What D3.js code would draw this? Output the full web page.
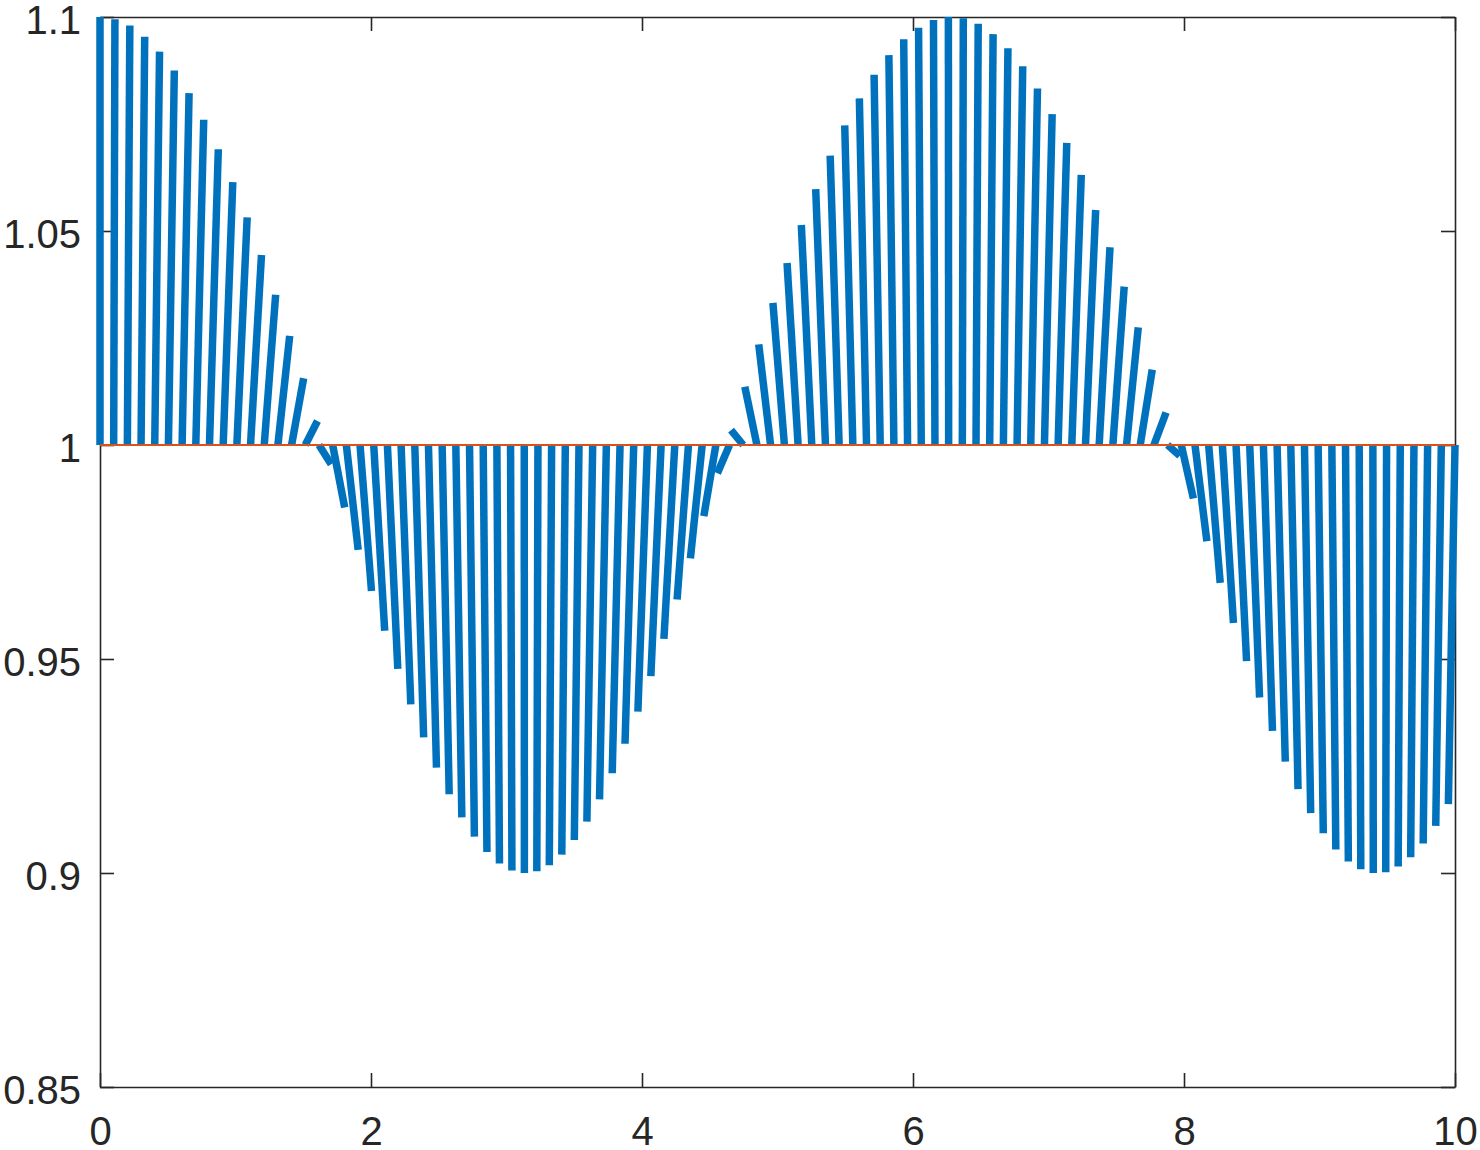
<!DOCTYPE html>
<html>
<head>
<meta charset="utf-8">
<script src="https://cdn.jsdelivr.net/npm/d3@7"></script>
<style>
  body { margin: 0; background: #fff; }
  .axis text { font-family: "Liberation Sans", Arial, sans-serif; font-size: 40px; fill: #262626; }
  .axis path, .axis line { stroke: #262626; stroke-width: 1.6; }
</style>
</head>
<body>
<div id="chart"></div>
<script>
// sample positions along x
const xs = [0, 0.101, 0.202, 0.303, 0.404, 0.505, 0.606, 0.707, 0.808, 0.909,
  1.010, 1.111, 1.212, 1.313, 1.414, 1.515, 1.616, 1.717, 1.818, 1.919,
  2.020, 2.121, 2.222, 2.323, 2.424, 2.525, 2.626, 2.727, 2.828, 2.929,
  3.030, 3.131, 3.232, 3.333, 3.434, 3.535, 3.636, 3.737, 3.838, 3.939,
  4.040, 4.141, 4.242, 4.343, 4.444, 4.545, 4.646, 4.747, 4.848, 4.949,
  5.051, 5.152, 5.253, 5.354, 5.455, 5.556, 5.657, 5.758, 5.859, 5.960,
  6.061, 6.162, 6.263, 6.364, 6.465, 6.566, 6.667, 6.768, 6.869, 6.970,
  7.071, 7.172, 7.273, 7.374, 7.475, 7.576, 7.677, 7.778, 7.879, 7.980,
  8.081, 8.182, 8.283, 8.384, 8.485, 8.586, 8.687, 8.788, 8.889, 8.990,
  9.091, 9.192, 9.293, 9.394, 9.495, 9.596, 9.697, 9.798, 9.899, 10.0];

// value at the end of each segment
const values = [1.1000, 1.0995, 1.0980, 1.0954, 1.0919, 1.0875, 1.0822, 1.0760, 1.0691, 1.0614,
  1.0532, 1.0444, 1.0351, 1.0255, 1.0156, 1.0056, 0.9955, 0.9854, 0.9755, 0.9659,
  0.9566, 0.9477, 0.9394, 0.9317, 0.9246, 0.9184, 0.9130, 0.9085, 0.9049, 0.9022,
  0.9006, 0.9000, 0.9004, 0.9018, 0.9043, 0.9077, 0.9120, 0.9172, 0.9233, 0.9302,
  0.9377, 0.9460, 0.9547, 0.9639, 0.9735, 0.9834, 0.9934, 1.0035, 1.0136, 1.0235,
  1.0332, 1.0425, 1.0514, 1.0598, 1.0676, 1.0747, 1.0810, 1.0865, 1.0911, 1.0948,
  1.0975, 1.0993, 1.1000, 1.0997, 1.0984, 1.0960, 1.0927, 1.0885, 1.0833, 1.0773,
  1.0706, 1.0631, 1.0549, 1.0462, 1.0370, 1.0275, 1.0176, 1.0076, 0.9975, 0.9875,
  0.9775, 0.9678, 0.9584, 0.9495, 0.9410, 0.9332, 0.9260, 0.9196, 0.9140, 0.9093,
  0.9055, 0.9027, 0.9009, 0.9000, 0.9002, 0.9015, 0.9037, 0.9069, 0.9110, 0.9161];

// horizontal shift of each segment's tip, in x units
const tipShift = [0, 0.0091, 0.0181, 0.0269, 0.0354, 0.0435, 0.0513, 0.0585, 0.0651, 0.0710,
  0.0762, 0.0807, 0.0843, 0.0870, 0.0889, 0.0899, 0.0899, 0.0890, 0.0873, 0.0846,
  0.0811, 0.0767, 0.0716, 0.0657, 0.0592, 0.0520, 0.0444, 0.0362, 0.0277, 0.0190,
  0.0100, 0.0009, -0.0082, -0.0172, -0.0260, -0.0345, -0.0427, -0.0505, -0.0578, -0.0644,
  -0.0704, -0.0757, -0.0802, -0.0839, -0.0868, -0.0887, -0.0898, -0.0899, -0.0892, -0.0875,
  -0.0849, -0.0815, -0.0772, -0.0721, -0.0663, -0.0599, -0.0528, -0.0452, -0.0371, -0.0286,
  -0.0199, -0.0109, -0.0019, 0.0072, 0.0162, 0.0251, 0.0337, 0.0419, 0.0497, 0.0570,
  0.0638, 0.0699, 0.0752, 0.0798, 0.0836, 0.0865, 0.0886, 0.0897, 0.0900, 0.0893,
  0.0877, 0.0852, 0.0819, 0.0777, 0.0727, 0.0670, 0.0605, 0.0535, 0.0460, 0.0379,
  0.0295, 0.0208, 0.0118, 0.0028, -0.0063, -0.0153, -0.0242, -0.0328, -0.0411, -0.0490];

const baseValue = 1;
const xTicks = [0, 2, 4, 6, 8, 10];
const yTicks = [0.85, 0.9, 0.95, 1, 1.05, 1.1];

const BAR_COLOR = "#0072BD";
const BASE_COLOR = "#D95319";

let width = 1480;
let height = 1150;
let plotLeft = 100, plotRight = 1455, plotTop = 17, plotBottom = 1087;

let x = d3.scaleLinear().domain([0, 10]).range([plotLeft, plotRight]);
let y = d3.scaleLinear().domain([0.85, 1.1]).range([plotBottom, plotTop]);

let svg = d3.select("#chart")
            .append("svg")
            .attr("width", width)
            .attr("height", height)
            .style("background", "#fff");

// axes box with inward ticks
svg.append("g")
   .attr("class", "axis")
   .attr("transform", `translate(0,${plotBottom})`)
   .call(d3.axisBottom(x).tickValues(xTicks).tickFormat(d3.format("d"))
           .tickSizeInner(-14).tickSizeOuter(0).tickPadding(30));

svg.append("g")
   .attr("class", "axis")
   .attr("transform", `translate(0,${plotTop})`)
   .call(d3.axisTop(x).tickValues(xTicks).tickFormat("")
           .tickSizeInner(-14).tickSizeOuter(0));

svg.append("g")
   .attr("class", "axis")
   .attr("transform", `translate(${plotLeft},0)`)
   .call(d3.axisLeft(y).tickValues(yTicks).tickFormat(d => String(+d.toFixed(2)))
           .tickSizeInner(-14).tickSizeOuter(0).tickPadding(19))
   .selectAll("text").attr("dy", "0.4em");

svg.append("g")
   .attr("class", "axis")
   .attr("transform", `translate(${plotRight},0)`)
   .call(d3.axisRight(y).tickValues(yTicks).tickFormat("")
           .tickSizeInner(-14).tickSizeOuter(0));

svg.selectAll(".axis .domain").attr("stroke", "#262626");

// segments from the base line to each value
svg.append("g")
   .selectAll("line")
   .data(xs)
   .enter()
   .append("line")
   .attr("x1", d => x(d))
   .attr("y1", y(baseValue))
   .attr("x2", (d, i) => x(d + tipShift[i]))
   .attr("y2", (d, i) => y(values[i]))
   .attr("stroke", BAR_COLOR)
   .attr("stroke-width", 7.5)
   .attr("stroke-linecap", "butt");

// base line
svg.append("line")
   .attr("x1", x(0))
   .attr("x2", x(10))
   .attr("y1", y(baseValue))
   .attr("y2", y(baseValue))
   .attr("stroke", BASE_COLOR)
   .attr("stroke-width", 2);
</script>
</body>
</html>
